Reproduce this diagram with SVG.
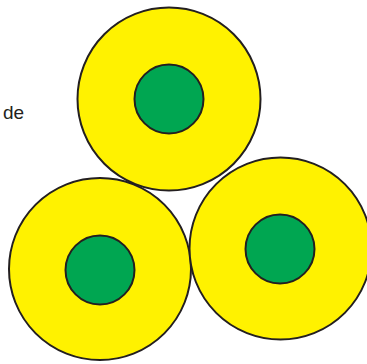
<svg xmlns="http://www.w3.org/2000/svg" width="367" height="364" viewBox="0 0 367 364">
<style>
.outer{fill:#fff200;stroke:#231f20;stroke-width:2}
.inner{fill:#00a651;stroke:#231f20;stroke-width:2}
.lbl{font-family:"Liberation Sans",Arial,sans-serif;font-size:19px;fill:#231f20}
</style>
<rect width="367" height="364" fill="#ffffff"/>
<g id="label"><text class="lbl" x="3" y="119">de</text></g>
<g id="circle-bottom-left">
<circle class="outer" cx="100" cy="269" r="91"/>
<circle class="inner" cx="100" cy="270" r="34.5"/>
</g>
<g id="circle-bottom-right">
<circle class="outer" cx="280.5" cy="248.5" r="91"/>
<circle class="inner" cx="280" cy="249" r="34.5"/>
</g>
<g id="circle-top">
<circle class="outer" cx="169" cy="99" r="91.5"/>
<circle class="inner" cx="169" cy="99" r="34.5"/>
</g>
<g id="connectors"></g>
</svg>
